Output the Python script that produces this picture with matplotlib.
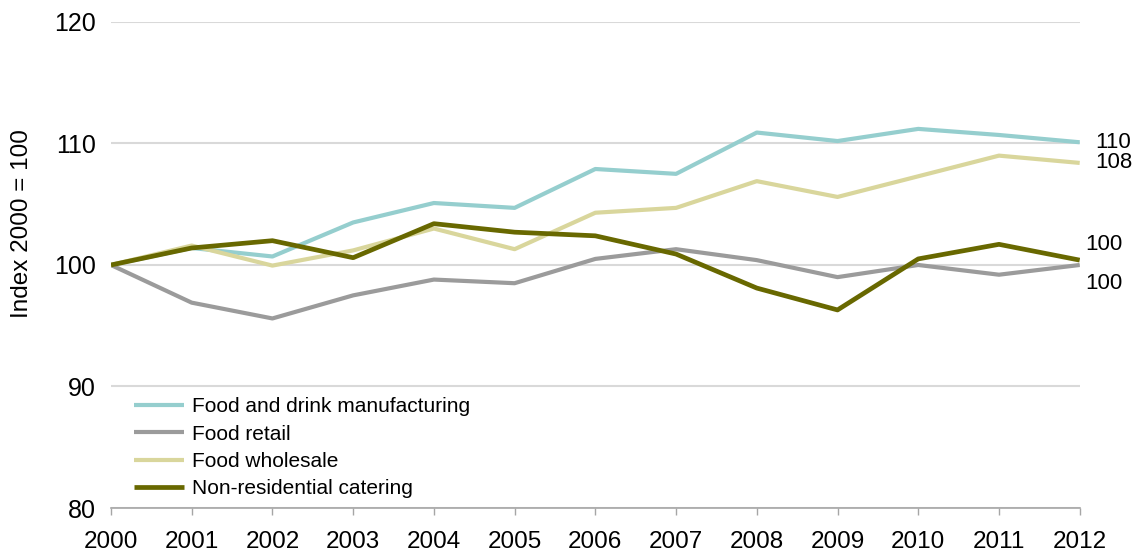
import matplotlib.pyplot as plt

plt.rcParams['font.family'] = ['Liberation Sans', 'DejaVu Sans']

years = list(range(2000, 2013))
manufacturing = [100, 101.4, 100.7, 103.5, 105.1, 104.7, 107.9, 107.5, 110.9, 110.2, 111.2, 110.7, 110.1]
retail = [100, 96.9, 95.6, 97.5, 98.8, 98.5, 100.5, 101.3, 100.4, 99.0, 100.0, 99.2, 100.0]
wholesale = [100, 101.6, 99.95, 101.2, 103.0, 101.3, 104.3, 104.7, 106.9, 105.6, 107.3, 109.0, 108.4]
catering = [100, 101.4, 102.0, 100.6, 103.4, 102.7, 102.4, 100.9, 98.1, 96.3, 100.5, 101.7, 100.4]

series_names = ["Food and drink manufacturing", "Food retail", "Food wholesale",
                "Non-residential catering"]
end_labels = ["110", "100", "108", "100"]
colors = ["#95CECE", "#9B9B9B", "#D9D69C", "#686800"]

fig = plt.figure(figsize=(11.37, 5.52), dpi=100)
ax = fig.add_axes([0.0976, 0.0797, 0.852, 0.8805])

data = [manufacturing, retail, wholesale, catering]
widths = [3.0, 3.0, 3.0, 3.4]
for vals, name, c, lw in zip(data, series_names, colors, widths):
    ax.plot(years, vals, color=c, lw=lw, label=name, solid_capstyle='butt', zorder=3)

ax.set_xlim(2000, 2012)
ax.set_ylim(80, 120)
ax.set_yticks([80, 90, 100, 110, 120])
ax.set_xticks(years)
ax.tick_params(axis='y', length=0, labelsize=18, pad=11)
ax.tick_params(axis='x', length=5, width=1, color='#A6A6A6', labelsize=17.5, pad=11.5)
ax.yaxis.grid(True, color='#D9D9D9', lw=1.5)
ax.set_axisbelow(True)
for s in ['top', 'right', 'left']:
    ax.spines[s].set_visible(False)
ax.spines['bottom'].set_color('#A6A6A6')
ax.spines['bottom'].set_linewidth(1.2)

ax.set_ylabel("Index 2000 = 100", fontsize=17.5)
ax.yaxis.set_label_coords(-0.0805, 0.586)

# end-of-line value labels
ax.annotate(end_labels[0], (2012, manufacturing[-1]), xytext=(11, 0), textcoords='offset points',
            va='center', fontsize=16, annotation_clip=False)
ax.annotate(end_labels[2], (2012, wholesale[-1]), xytext=(11, 0), textcoords='offset points',
            va='center', fontsize=16, annotation_clip=False)
ax.annotate(end_labels[3], (2012, catering[-1]), xytext=(4, 11.5), textcoords='offset points',
            va='center', fontsize=16, annotation_clip=False)
ax.annotate(end_labels[1], (2012, retail[-1]), xytext=(4, -13), textcoords='offset points',
            va='center', fontsize=16, annotation_clip=False)

ax.legend(loc='upper left', bbox_to_anchor=(0.024, 0.228), frameon=False, fontsize=15,
          handlelength=2.4, handletextpad=0.35, labelspacing=0.4, borderpad=0,
          borderaxespad=0)

fig.savefig("out.png", dpi=100)
